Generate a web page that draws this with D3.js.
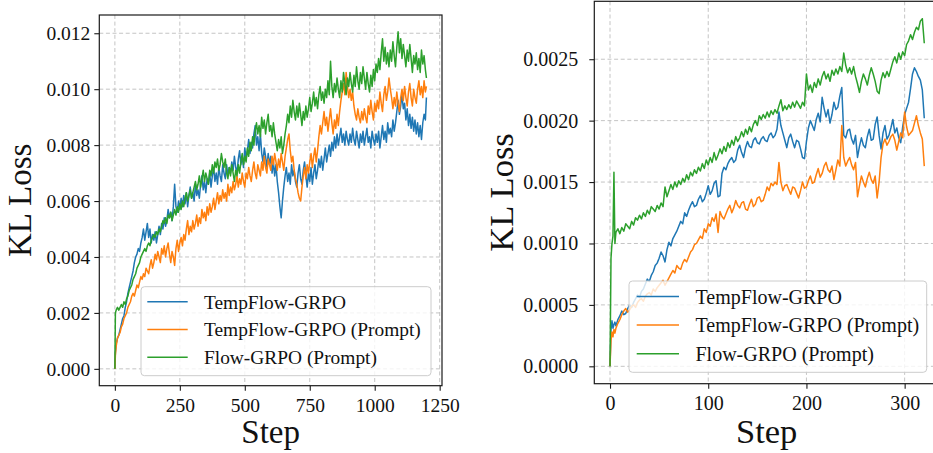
<!DOCTYPE html>
<html><head><meta charset="utf-8">
<script src="https://cdn.jsdelivr.net/npm/d3@7"></script>
<style>
html,body{margin:0;padding:0;background:#fff;}
svg{display:block;}
svg text{font-family:'Liberation Serif','Times New Roman',serif !important;}
</style></head><body>
<svg id="chart" width="933" height="453"></svg>
<script>
// ---------- data ----------
const seriesNames = ["TempFlow-GRPO", "TempFlow-GRPO (Prompt)", "Flow-GRPO (Prompt)"];
const seriesColors = ["#1f77b4", "#ff7f0e", "#2ca02c"];

const stepsLeft = [0,2,5,
 10,15,20,25,30,35,40,45,50,55,
 60,65,70,75,80,85,90,95,100,105,
 110,115,120,125,130,135,140,145,150,155,
 160,165,170,175,180,185,190,195,200,205,
 210,215,220,225,230,235,240,245,250,255,
 260,265,270,275,280,285,290,295,300,305,
 310,315,320,325,330,335,340,345,350,355,
 360,365,370,375,380,385,390,395,400,405,
 410,415,420,425,430,435,440,445,450,455,
 460,465,470,475,480,485,490,495,500,505,
 510,515,520,525,530,535,540,545,550,555,
 560,565,570,575,580,585,590,595,600,605,
 610,615,620,625,630,635,640,645,650,655,
 660,665,670,675,680,685,690,695,700,705,
 710,715,720,725,730,735,740,745,750,755,
 760,765,770,775,780,785,790,795,800,805,
 810,815,820,825,830,835,840,845,850,855,
 860,865,870,875,880,885,890,895,900,905,
 910,915,920,925,930,935,940,945,950,955,
 960,965,970,975,980,985,990,995,1000,1005,
 1010,1015,1020,1025,1030,1035,1040,1045,1050,1055,
 1060,1065,1070,1075,1080,1085,1090,1095,1100,1105,
 1110,1115,1120,1125,1130,1135,1140,1145,1150,1155,
 1160,1165,1170,1175,1180,1185,1190,1195,
 1199];

const leftTempFlow = [0,0.0006,0.0009,
 0.0011,0.0012,0.0014,0.0016,0.0018,0.0019,0.0022,0.0024,0.0027,0.0029,
 0.0031,0.0033,0.0035,0.0038,0.0040,0.0041,0.0043,0.0042,0.0045,0.0047,
 0.0050,0.0046,0.0049,0.0052,0.0047,0.0050,0.0045,0.0048,0.0046,0.0049,
 0.0045,0.0048,0.0051,0.0048,0.0052,0.0050,0.0054,0.0051,0.0053,0.0057,
 0.0054,0.0056,0.0053,0.0058,0.0066,0.0058,0.0056,0.0060,0.0057,0.0061,
 0.0058,0.0062,0.0059,0.0063,0.0058,0.0062,0.0065,0.0061,0.0063,0.0060,
 0.0066,0.0062,0.0064,0.0061,0.0066,0.0069,0.0064,0.0067,0.0063,0.0068,
 0.0066,0.0070,0.0065,0.0069,0.0072,0.0067,0.0070,0.0066,0.0072,0.0069,
 0.0067,0.0073,0.0070,0.0068,0.0073,0.0069,0.0072,0.0070,0.0074,0.0071,
 0.0076,0.0072,0.0070,0.0075,0.0078,0.0073,0.0076,0.0072,0.0079,0.0075,
 0.0078,0.0082,0.0077,0.0081,0.0079,0.0084,0.0087,0.0080,0.0083,0.0078,
 0.0084,0.0077,0.0074,0.0079,0.0076,0.0072,0.0077,0.0073,0.0076,0.0070,
 0.0074,0.0069,0.0073,0.0067,0.0063,0.0058,0.0054,0.0060,0.0065,0.0069,
 0.0072,0.0067,0.0070,0.0066,0.0073,0.0069,0.0071,0.0067,0.0065,0.0070,
 0.0073,0.0068,0.0066,0.0071,0.0074,0.0069,0.0065,0.0070,0.0067,0.0072,
 0.0066,0.0070,0.0073,0.0068,0.0071,0.0075,0.0072,0.0076,0.0071,0.0075,
 0.0079,0.0074,0.0077,0.0080,0.0076,0.0081,0.0078,0.0083,0.0079,0.0084,
 0.0080,0.0083,0.0086,0.0081,0.0084,0.0080,0.0085,0.0082,0.0080,0.0084,
 0.0081,0.0086,0.0082,0.0080,0.0085,0.0082,0.0079,0.0084,0.0081,0.0085,
 0.0080,0.0083,0.0086,0.0081,0.0083,0.0079,0.0085,0.0082,0.0080,0.0084,
 0.0081,0.0085,0.0079,0.0083,0.0087,0.0082,0.0085,0.0081,0.0088,0.0084,
 0.0086,0.0083,0.0089,0.0085,0.0088,0.0092,0.0096,0.0091,0.0094,0.0098,
 0.0093,0.0095,0.0089,0.0093,0.0087,0.0091,0.0086,0.0090,0.0085,0.0089,
 0.0084,0.0088,0.0083,0.0087,0.0082,0.0088,0.0091,0.0089,
 0.0097];

const leftTempFlowPrompt = [0,0.0005,0.0008,
 0.0011,0.0012,0.0013,0.0015,0.0016,0.0018,0.0019,0.0020,0.0022,0.0023,
 0.0024,0.0026,0.0027,0.0026,0.0028,0.0030,0.0029,0.0031,0.0033,0.0032,
 0.0034,0.0033,0.0036,0.0035,0.0034,0.0037,0.0039,0.0036,0.0038,0.0041,
 0.0039,0.0042,0.0040,0.0038,0.0043,0.0041,0.0044,0.0040,0.0043,0.0045,
 0.0041,0.0038,0.0042,0.0040,0.0037,0.0043,0.0046,0.0042,0.0045,0.0047,
 0.0044,0.0048,0.0046,0.0050,0.0053,0.0048,0.0051,0.0049,0.0053,0.0050,
 0.0052,0.0055,0.0051,0.0054,0.0052,0.0057,0.0054,0.0056,0.0053,0.0058,
 0.0055,0.0059,0.0056,0.0058,0.0061,0.0057,0.0060,0.0063,0.0059,0.0062,
 0.0060,0.0064,0.0061,0.0063,0.0060,0.0066,0.0062,0.0065,0.0063,0.0067,
 0.0064,0.0066,0.0069,0.0065,0.0068,0.0066,0.0070,0.0067,0.0065,0.0070,
 0.0068,0.0072,0.0069,0.0067,0.0071,0.0074,0.0070,0.0068,0.0073,0.0071,
 0.0069,0.0074,0.0071,0.0076,0.0072,0.0070,0.0075,0.0073,0.0071,0.0076,
 0.0073,0.0077,0.0074,0.0071,0.0075,0.0072,0.0077,0.0074,0.0071,0.0076,
 0.0079,0.0082,0.0084,0.0078,0.0074,0.0076,0.0071,0.0068,0.0066,0.0063,
 0.0061,0.0060,0.0065,0.0069,0.0072,0.0068,0.0073,0.0070,0.0074,0.0077,
 0.0072,0.0076,0.0079,0.0074,0.0078,0.0083,0.0087,0.0084,0.0088,0.0092,
 0.0087,0.0090,0.0085,0.0089,0.0093,0.0088,0.0084,0.0089,0.0086,0.0091,
 0.0087,0.0092,0.0096,0.0099,0.0102,0.0098,0.0106,0.0101,0.0097,0.0100,
 0.0096,0.0099,0.0094,0.0091,0.0089,0.0093,0.0090,0.0088,0.0092,0.0089,
 0.0093,0.0090,0.0088,0.0094,0.0091,0.0096,0.0092,0.0089,0.0095,0.0092,
 0.0096,0.0093,0.0099,0.0095,0.0092,0.0098,0.0101,0.0096,0.0099,0.0104,
 0.0100,0.0097,0.0093,0.0097,0.0094,0.0099,0.0095,0.0092,0.0097,0.0100,
 0.0096,0.0101,0.0097,0.0094,0.0099,0.0102,0.0097,0.0094,0.0100,0.0097,
 0.0095,0.0100,0.0103,0.0098,0.0101,0.0097,0.0103,0.0099,
 0.0101];

const leftFlowPrompt = [0,0.0020,0.0021,
 0.0022,0.0021,0.0022,0.0023,0.0022,0.0024,0.0023,0.0025,0.0026,0.0028,
 0.0029,0.0030,0.0032,0.0033,0.0034,0.0036,0.0037,0.0038,0.0040,0.0041,
 0.0042,0.0043,0.0042,0.0044,0.0045,0.0044,0.0046,0.0047,0.0048,0.0047,
 0.0049,0.0048,0.0050,0.0049,0.0051,0.0053,0.0052,0.0054,0.0052,0.0055,
 0.0054,0.0056,0.0053,0.0055,0.0057,0.0055,0.0058,0.0056,0.0059,0.0057,
 0.0060,0.0058,0.0061,0.0063,0.0060,0.0062,0.0064,0.0061,0.0063,0.0065,
 0.0067,0.0064,0.0066,0.0069,0.0065,0.0068,0.0071,0.0067,0.0070,0.0068,
 0.0066,0.0071,0.0069,0.0073,0.0070,0.0074,0.0072,0.0075,0.0071,0.0073,
 0.0077,0.0074,0.0072,0.0075,0.0070,0.0068,0.0072,0.0069,0.0073,0.0070,
 0.0067,0.0071,0.0069,0.0073,0.0070,0.0074,0.0077,0.0073,0.0076,0.0074,
 0.0079,0.0076,0.0081,0.0078,0.0083,0.0080,0.0085,0.0088,0.0084,0.0087,
 0.0083,0.0090,0.0086,0.0089,0.0084,0.0088,0.0091,0.0085,0.0087,0.0083,
 0.0088,0.0084,0.0081,0.0078,0.0082,0.0079,0.0083,0.0077,0.0080,0.0084,
 0.0087,0.0091,0.0088,0.0094,0.0090,0.0096,0.0092,0.0089,0.0094,0.0090,
 0.0095,0.0091,0.0087,0.0092,0.0089,0.0094,0.0090,0.0093,0.0097,0.0092,
 0.0095,0.0099,0.0094,0.0097,0.0093,0.0098,0.0101,0.0096,0.0099,0.0095,
 0.0100,0.0097,0.0103,0.0098,0.0110,0.0101,0.0097,0.0102,0.0099,0.0104,
 0.0100,0.0097,0.0103,0.0099,0.0106,0.0102,0.0098,0.0104,0.0101,0.0106,
 0.0102,0.0099,0.0105,0.0101,0.0108,0.0103,0.0100,0.0106,0.0102,0.0108,
 0.0104,0.0100,0.0106,0.0102,0.0099,0.0105,0.0101,0.0107,0.0103,0.0109,
 0.0106,0.0111,0.0107,0.0113,0.0118,0.0110,0.0115,0.0109,0.0113,0.0108,
 0.0114,0.0110,0.0117,0.0112,0.0108,0.0115,0.01205,0.0113,0.0118,0.0111,
 0.0116,0.0112,0.0108,0.0114,0.0110,0.0116,0.0111,0.0106,0.0112,0.0109,
 0.0113,0.0107,0.0111,0.0106,0.0114,0.0109,0.0112,0.0107,
 0.0104];

const stepsRight = [0,1,2,3,4,5,6,
 8,10,12,14,16,18,20,22,24,26,
 28,30,32,34,36,38,40,42,44,46,
 48,50,52,54,56,58,60,62,64,66,
 68,70,72,74,76,78,80,82,84,86,
 88,90,92,94,96,98,100,102,104,106,
 108,110,112,114,116,118,120,122,124,126,
 128,130,132,134,136,138,140,142,144,146,
 148,150,152,154,156,158,160,162,164,166,
 168,170,172,174,176,178,180,182,184,186,
 188,190,192,194,196,198,200,202,204,206,
 208,210,212,214,216,218,220,222,224,226,
 228,230,232,234,236,238,240,242,244,246,
 248,250,252,254,256,258,260,262,264,266,
 268,270,272,274,276,278,280,282,284,286,
 288,290,292,294,296,298,300,302,304,306,
 308,310,312,314,316,318,320];

const rightTempFlow = [0,0.00030,0.00037,0.00031,0.00034,0.00036,0.00033,
 0.00038,0.00041,0.00045,0.00042,0.00043,0.00047,0.00050,0.00048,0.00052,0.00055,
 0.00058,0.00056,0.00061,0.00063,0.00067,0.00071,0.00069,0.00074,0.00077,0.00082,
 0.00084,0.00088,0.00093,0.00090,0.00085,0.00095,0.00101,0.00098,0.00104,0.00107,
 0.00110,0.00114,0.00118,0.00116,0.00125,0.00122,0.00127,0.00131,0.00134,0.00130,
 0.00131,0.00136,0.00139,0.00134,0.00136,0.00141,0.00147,0.00140,0.00143,0.00149,
 0.00151,0.00138,0.00139,0.00157,0.00162,0.00160,0.00165,0.00168,0.00170,0.00166,
 0.00168,0.00176,0.00180,0.00174,0.00170,0.00178,0.00183,0.00179,0.00178,0.00184,
 0.00186,0.00182,0.00181,0.00185,0.00187,0.00184,0.00183,0.00188,0.00190,0.00186,
 0.00188,0.00193,0.00207,0.00196,0.00190,0.00184,0.00178,0.00186,0.00189,0.00183,
 0.00178,0.00184,0.00183,0.00177,0.00170,0.00169,0.00183,0.00194,0.00200,0.00196,
 0.00192,0.00201,0.00206,0.00199,0.00219,0.00210,0.00203,0.00209,0.00198,0.00205,
 0.00215,0.00209,0.00211,0.00220,0.00227,0.00188,0.00186,0.00192,0.00193,0.00185,
 0.00181,0.00188,0.00170,0.00179,0.00186,0.00180,0.00178,0.00187,0.00193,0.00184,
 0.00185,0.00197,0.00203,0.00188,0.00177,0.00190,0.00196,0.00185,0.00188,0.00194,
 0.00201,0.00190,0.00194,0.00186,0.00182,0.00195,0.00205,0.00210,0.00215,0.00226,
 0.00238,0.00243,0.00240,0.00236,0.00233,0.00225,0.00202];

const rightTempFlowPrompt = [0,0.00021,0.00028,0.00024,0.00030,0.00027,0.00031,
 0.00035,0.00038,0.00042,0.00045,0.00047,0.00044,0.00046,0.00049,0.00050,0.00048,
 0.00052,0.00054,0.00055,0.00053,0.00057,0.00059,0.00060,0.00058,0.00063,0.00061,
 0.00064,0.00066,0.00068,0.00070,0.00066,0.00069,0.00072,0.00075,0.00078,0.00076,
 0.00082,0.00080,0.00079,0.00084,0.00087,0.00085,0.00089,0.00093,0.00095,0.00099,
 0.00100,0.00103,0.00106,0.00104,0.00112,0.00109,0.00116,0.00114,0.00121,0.00118,
 0.00124,0.00109,0.00126,0.00122,0.00120,0.00124,0.00128,0.00131,0.00125,0.00129,
 0.00135,0.00131,0.00129,0.00133,0.00134,0.00128,0.00127,0.00132,0.00136,0.00130,
 0.00132,0.00137,0.00138,0.00134,0.00135,0.00140,0.00146,0.00143,0.00149,0.00147,
 0.00150,0.00148,0.00166,0.00150,0.00143,0.00147,0.00148,0.00144,0.00140,0.00146,
 0.00145,0.00141,0.00137,0.00143,0.00150,0.00145,0.00146,0.00151,0.00155,0.00149,
 0.00150,0.00156,0.00161,0.00154,0.00157,0.00163,0.00166,0.00160,0.00158,0.00163,
 0.00152,0.00160,0.00168,0.00163,0.00196,0.00170,0.00163,0.00167,0.00170,0.00164,
 0.00160,0.00166,0.00138,0.00147,0.00155,0.00150,0.00146,0.00153,0.00158,0.00152,
 0.00149,0.00155,0.00137,0.00150,0.00170,0.00181,0.00185,0.00180,0.00183,0.00187,
 0.00189,0.00184,0.00176,0.00183,0.00190,0.00186,0.00207,0.00195,0.00188,0.00190,
 0.00192,0.00198,0.00204,0.00196,0.00190,0.00185,0.00163];

const rightFlowPrompt = [0,0.00088,0.00100,0.00106,0.00158,0.00100,0.00109,
 0.00112,0.00108,0.00113,0.00110,0.00116,0.00114,0.00112,0.00118,0.00115,0.00121,
 0.00119,0.00123,0.00120,0.00125,0.00122,0.00127,0.00124,0.00130,0.00128,0.00126,
 0.00131,0.00128,0.00133,0.00130,0.00146,0.00138,0.00143,0.00148,0.00144,0.00150,
 0.00146,0.00151,0.00148,0.00153,0.00150,0.00156,0.00152,0.00158,0.00155,0.00160,
 0.00157,0.00162,0.00159,0.00165,0.00161,0.00168,0.00164,0.00170,0.00166,0.00174,
 0.00168,0.00172,0.00177,0.00173,0.00179,0.00175,0.00182,0.00178,0.00184,0.00180,
 0.00187,0.00183,0.00186,0.00191,0.00187,0.00193,0.00189,0.00195,0.00191,0.00197,
 0.00200,0.00196,0.00204,0.00201,0.00205,0.00202,0.00207,0.00203,0.00208,0.00205,
 0.00209,0.00206,0.00212,0.00217,0.00208,0.00212,0.00209,0.00213,0.00210,0.00215,
 0.00211,0.00216,0.00213,0.00210,0.00215,0.00212,0.00238,0.00225,0.00229,0.00223,
 0.00231,0.00227,0.00234,0.00229,0.00236,0.00240,0.00234,0.00238,0.00232,0.00241,
 0.00237,0.00242,0.00238,0.00244,0.00240,0.00255,0.00245,0.00239,0.00243,0.00238,
 0.00244,0.00236,0.00230,0.00223,0.00232,0.00238,0.00234,0.00229,0.00237,0.00243,
 0.00238,0.00232,0.00224,0.00222,0.00233,0.00239,0.00235,0.00240,0.00236,0.00242,
 0.00248,0.00252,0.00247,0.00255,0.00250,0.00256,0.00253,0.00262,0.00265,0.00270,
 0.00266,0.00272,0.00276,0.00274,0.00281,0.00283,0.00263];

const leftXTicks = [0, 250, 500, 750, 1000, 1250];
const leftYTicks = [0, 0.002, 0.004, 0.006, 0.008, 0.010, 0.012];
const rightXTicks = [0, 100, 200, 300];
const rightYTicks = [0, 0.0005, 0.0010, 0.0015, 0.0020, 0.0025];
const xLabel = "Step";
const yLabel = "KL Loss";

// ---------- drawing ----------
const FONT = "'Liberation Serif','Times New Roman',serif";
const svg = d3.select("#chart");
svg.append("rect").attr("width", 933).attr("height", 453).attr("fill", "#fff");

function drawPanel(o) {
  const g = svg.append("g");
  const xe = d3.extent(o.steps), xp = (xe[1] - xe[0]) * 0.05;
  const allV = o.series.flat();
  const ye = d3.extent(allV), yp = (ye[1] - ye[0]) * 0.05;
  const x = d3.scaleLinear().domain([xe[0] - xp, xe[1] + xp]).range([o.left, o.right]);
  const y = d3.scaleLinear().domain([ye[0] - yp, ye[1] + yp]).range([o.bottom, o.top]);

  const clipId = "clip" + o.id;
  g.append("clipPath").attr("id", clipId).append("rect")
    .attr("x", o.left).attr("y", o.top).attr("width", o.right - o.left).attr("height", o.bottom - o.top);

  // grid
  const grid = g.append("g").attr("stroke", "#c4c4c4").attr("stroke-width", 1)
    .attr("stroke-dasharray", "4,2.6").attr("clip-path", `url(#${clipId})`);
  o.xTicks.forEach(t => grid.append("line").attr("x1", x(t)).attr("x2", x(t)).attr("y1", o.top).attr("y2", o.bottom));
  o.yTicks.forEach(t => grid.append("line").attr("y1", y(t)).attr("y2", y(t)).attr("x1", o.left).attr("x2", o.right));

  // lines
  const line = d3.line().x((d, i) => x(o.steps[i])).y(d => y(d));
  const lg = g.append("g").attr("clip-path", `url(#${clipId})`);
  o.series.forEach((s, k) => {
    lg.append("path").datum(s).attr("d", line).attr("fill", "none")
      .attr("stroke", seriesColors[k]).attr("stroke-width", 1.5).attr("stroke-linejoin", "round");
  });

  // spines
  g.append("rect").attr("x", o.left).attr("y", o.top).attr("width", o.right - o.left)
    .attr("height", o.bottom - o.top).attr("fill", "none").attr("stroke", "#1a1a1a").attr("stroke-width", 1.2);

  // axes
  const xa = g.append("g").attr("transform", `translate(0,${o.bottom})`)
    .call(d3.axisBottom(x).tickValues(o.xTicks).tickFormat(d3.format("d")).tickSize(5).tickPadding(o.xPad));
  const ya = g.append("g").attr("transform", `translate(${o.left},0)`)
    .call(d3.axisLeft(y).tickValues(o.yTicks).tickFormat(d3.format(o.yFmt)).tickSize(5).tickPadding(o.yPad));
  [xa, ya].forEach(a => {
    a.attr("font-family", null).attr("font-size", null);
    a.select(".domain").remove();
    a.selectAll("line").attr("stroke", "#1a1a1a").attr("stroke-width", 1.1);
    a.selectAll("text").style("font-family", FONT)
      .style("font-size", o.tickFs + "px").attr("fill", "#111");
  });

  // axis labels
  g.append("text").attr("x", (o.left + Math.min(o.right, 939)) / 2).attr("y", 443)
    .attr("text-anchor", "middle").style("font-family", FONT).style("font-size", o.labelFs + "px")
    .attr("fill", "#111").text(xLabel);
  g.append("text").attr("transform", `translate(${o.yLabelX},${(o.top + o.bottom) / 2}) rotate(-90)`)
    .attr("text-anchor", "middle").style("font-family", FONT).style("font-size", o.labelFs + "px")
    .attr("fill", "#111").text(yLabel);

  // legend
  const L = o.legend;
  g.append("rect").attr("x", L.x).attr("y", L.y).attr("width", L.w).attr("height", L.h)
    .attr("rx", 3.5).attr("fill", "#fff").attr("fill-opacity", 0.8)
    .attr("stroke", "#cccccc").attr("stroke-width", 1);
  seriesNames.forEach((n, k) => {
    const ry = L.row0 + k * L.rowH;
    g.append("line").attr("x1", L.lx1).attr("x2", L.lx2).attr("y1", ry).attr("y2", ry)
      .attr("stroke", seriesColors[k]).attr("stroke-width", 1.5);
    g.append("text").attr("x", L.tx).attr("y", ry).attr("dy", "0.36em")
      .style("font-family", FONT).style("font-size", L.fs + "px").attr("fill", "#111").text(n);
  });
}

drawPanel({
  id: "L", steps: stepsLeft, series: [leftTempFlow, leftTempFlowPrompt, leftFlowPrompt],
  left: 99.3, right: 442, top: 15, bottom: 385.7,
  xTicks: leftXTicks, yTicks: leftYTicks, yFmt: ".3f",
  xPad: 7, yPad: 4, tickFs: 19.5, labelFs: 33, yLabelX: 31,
  legend: {x: 141, y: 286.7, w: 290, h: 89, lx1: 147.3, lx2: 187.7, tx: 204, row0: 301.7, rowH: 27.8, fs: 19.4}
});

drawPanel({
  id: "R", steps: stepsRight, series: [rightTempFlow, rightTempFlowPrompt, rightFlowPrompt],
  left: 594.3, right: 940, top: 1.3, bottom: 383.7,
  xTicks: rightXTicks, yTicks: rightYTicks, yFmt: ".4f",
  xPad: 7, yPad: 11, tickFs: 20, labelFs: 34.5, yLabelX: 513,
  legend: {x: 629, y: 281, w: 297.7, h: 91.3, lx1: 636.7, lx2: 679, tx: 695.5, row0: 296.5, rowH: 28.6, fs: 20}
});
</script>
</body></html>
